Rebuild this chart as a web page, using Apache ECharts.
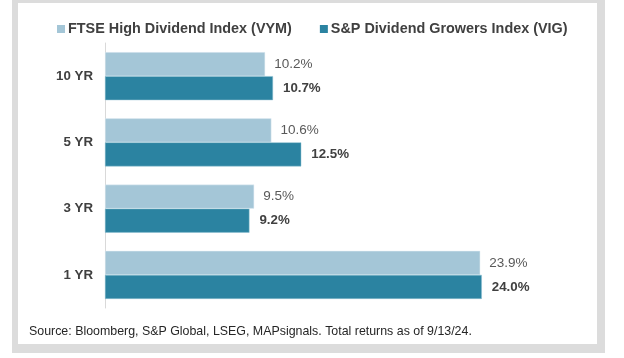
<!DOCTYPE html>
<html>
<head>
<meta charset="utf-8">
<script src="https://cdn.jsdelivr.net/npm/echarts@6/dist/echarts.min.js"></script>
<style>html,body{margin:0;padding:0;background:#fff;}#c{width:624px;height:358px;}</style>
</head>
<body>
<div id="c"></div>
<script>
const categories = ['10 YR', '5 YR', '3 YR', '1 YR'];
const seriesNames = ['FTSE High Dividend Index (VYM)', 'S&P Dividend Growers Index (VIG)'];
const vymValues = [10.2, 10.6, 9.5, 23.9];
const vigValues = [10.7, 12.5, 9.2, 24.0];
const sourceText = 'Source: Bloomberg, S&P Global, LSEG, MAPsignals. Total returns as of 9/13/24.';

const chart = echarts.init(document.getElementById('c'), null, {renderer: 'canvas'});
const FONT = '"Liberation Sans", Arial, sans-serif';
chart.setOption({
  animation: false,
  backgroundColor: '#ffffff',
  graphic: [
    {type: 'rect', z: -10, shape: {x: 12, y: -2, width: 593, height: 355}, style: {fill: '#dcdcdc'}},
    {type: 'rect', z: -9, shape: {x: 18, y: 3, width: 579, height: 341}, style: {fill: '#ffffff'}},
    {type: 'text', left: 29, top: 326, style: {text: sourceText, font: '12.4px ' + FONT, fill: '#262626'}}
  ],
  legend: {
    left: 57, top: 22, padding: 0,
    icon: 'rect', itemWidth: 8, itemHeight: 8, itemGap: 28,
    itemStyle: {borderWidth: 0},
    textStyle: {fontFamily: FONT, fontSize: 14.4, fontWeight: 'bold', color: '#404040', padding: [0, 0, 0, -2]},
    data: seriesNames
  },
  grid: {left: 105, top: 43, height: 265, right: 48},
  xAxis: {type: 'value', min: 0, max: 30, show: false, splitLine: {show: false}},
  yAxis: {
    type: 'category', data: categories, inverse: true,
    axisLine: {show: true, lineStyle: {color: '#d9d9d9', width: 1}},
    axisTick: {show: false},
    axisLabel: {fontFamily: FONT, fontSize: 13.3, fontWeight: 'bold', color: '#404040', margin: 12}
  },
  series: [
    {
      name: seriesNames[0], type: 'bar', data: vymValues,
      barGap: '0%', barCategoryGap: '27.5%',
      itemStyle: {color: '#a4c6d7', borderColor: '#e4eff4', borderWidth: 0.5},
      label: {show: true, position: 'right', distance: 9, formatter: p => p.value.toFixed(1) + '%',
        fontFamily: FONT, fontSize: 13.5, color: '#595959'}
    },
    {
      name: seriesNames[1], type: 'bar', data: vigValues,
      barGap: '0%', barCategoryGap: '27.5%',
      itemStyle: {color: '#2b83a1', borderColor: '#8fc0d2', borderWidth: 0.5},
      label: {show: true, position: 'right', distance: 10, formatter: p => p.value.toFixed(1) + '%',
        fontFamily: FONT, fontSize: 13.3, fontWeight: 'bold', color: '#404040'}
    }
  ]
});
</script>
</body>
</html>
